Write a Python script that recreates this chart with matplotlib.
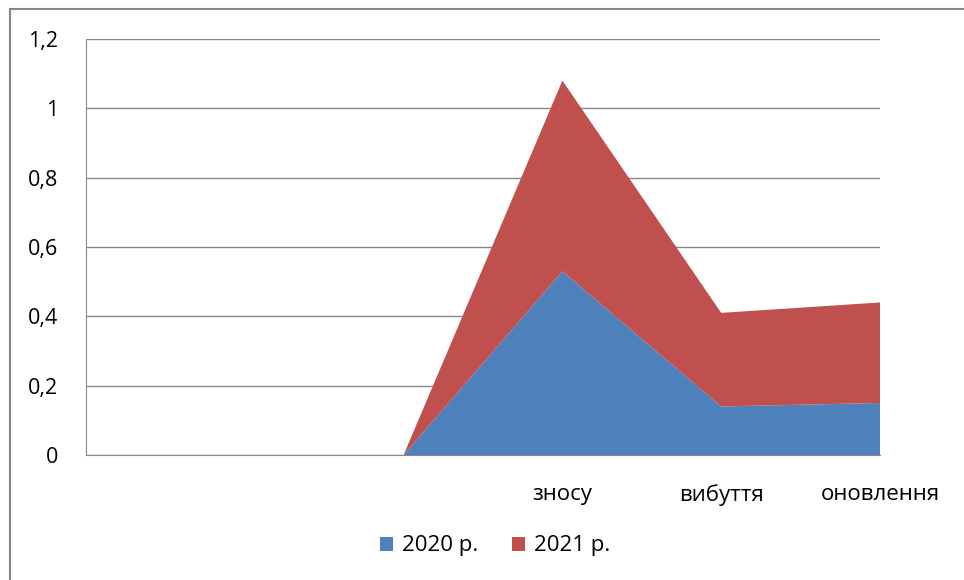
import matplotlib
matplotlib.use("Agg")
import matplotlib.pyplot as plt
from matplotlib.patches import Rectangle
import numpy as np

categories = ["", "", "", "зносу", "вибуття", "оновлення"]
series_2020 = [0, 0, 0, 0.53, 0.14, 0.15]
series_2021 = [0, 0, 0, 0.55, 0.27, 0.29]
series_names = ["2020 р.", "2021 р."]
yticks = [0, 0.2, 0.4, 0.6, 0.8, 1.0, 1.2]
ytick_labels = ["0", "0,2", "0,4", "0,6", "0,8", "1", "1,2"]

colors = ["#4F81BD", "#C0504D"]
plt.rcParams['font.family'] = ['Open Sans', 'DejaVu Sans']

fig = plt.figure(figsize=(9.64, 5.8), dpi=100)
fig.patches.append(Rectangle((10/964, -0.1), 1.1, (580-9)/580 + 0.1, transform=fig.transFigure,
                             fill=False, edgecolor="#888888", linewidth=1.5))
ax = fig.add_axes([86/964, 1 - 455/580, (880-86)/964, (455-39)/580])

x = np.arange(len(categories))
ax.stackplot(x, series_2020, series_2021, colors=colors, labels=series_names, linewidth=0)

ax.set_xlim(0, len(categories) - 1)
ax.set_ylim(0, 1.2)
ax.set_yticks(yticks)
ax.set_yticklabels(ytick_labels, fontsize=15.5)
ax.set_xticks(x)
ax.set_xticklabels(categories, fontsize=16)
ax.tick_params(axis='x', length=0, pad=21)
ax.tick_params(axis='y', length=0, pad=20)
for lab in ax.get_yticklabels():
    lab.set_horizontalalignment('right')
ax.grid(axis='y', color="#888888", linewidth=1)
ax.set_axisbelow(True)
for s in ["top", "right"]:
    ax.spines[s].set_visible(False)
ax.spines["left"].set_color("#888888")
ax.spines["bottom"].set_color("#888888")
ax.spines["left"].set_zorder(0.5)

leg = fig.legend(loc="center", bbox_to_anchor=(495/964, 1 - 546/580), ncol=2, frameon=False,
                 fontsize=16, handlelength=0.6, handleheight=0.6, handletextpad=0.4, columnspacing=1.5)

fig.savefig("out.png", dpi=100)
